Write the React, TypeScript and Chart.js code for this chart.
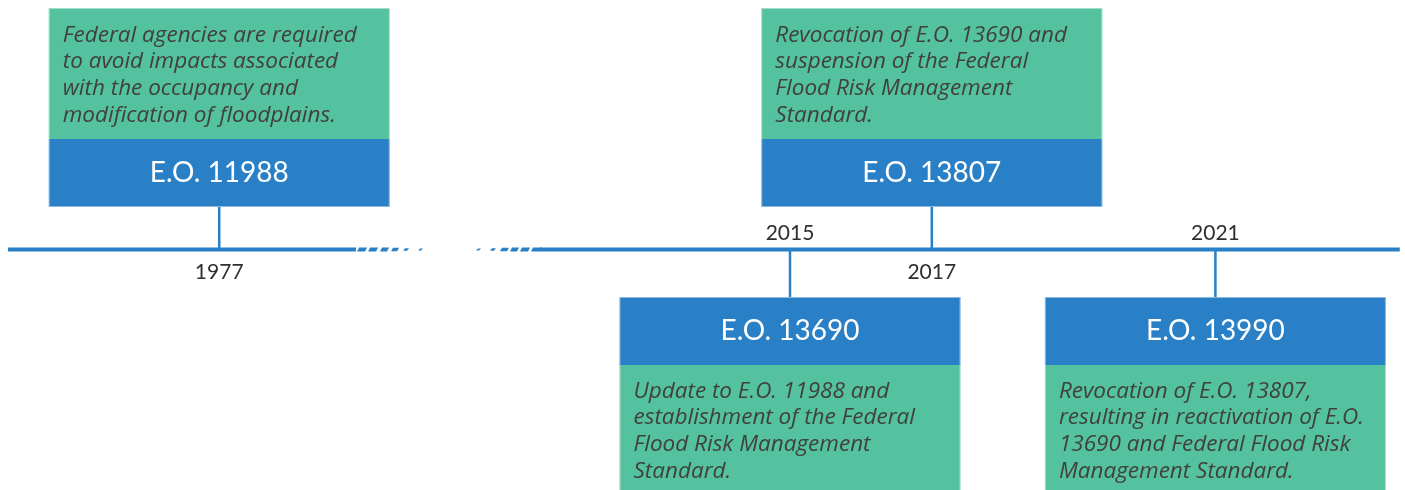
import { useEffect, useRef } from "react";
import { Chart, registerables } from "chart.js";

Chart.register(...registerables);

// ---- data ----
const years = [1977, 2015, 2017, 2021];
const yearLabels = ["1977", "2015", "2017", "2021"];
const orders = ["E.O. 11988", "E.O. 13690", "E.O. 13807", "E.O. 13990"];
const sides = ["above", "below", "above", "below"];
const descriptions = [
  ["Federal agencies are required", "to avoid impacts associated", "with the occupancy and", "modification of floodplains."],
  ["Update to E.O. 11988 and", "establishment of the Federal", "Flood Risk Management", "Standard."],
  ["Revocation of E.O. 13690 and", "suspension of the Federal", "Flood Risk Management", "Standard."],
  ["Revocation of E.O. 13807,", "resulting in reactivation of E.O.", "13690 and Federal Flood Risk", "Management Standard."],
];

// ---- broken axis (years before the break are shifted onto the axis) ----
const BREAK_YEAR = 2000;
const BREAK_SHIFT = 29.95;
const axisPos = (y: number) => (y < BREAK_YEAR ? y + BREAK_SHIFT : y);
const X_MIN = 2003.858;
const X_MAX = 2023.674;
const LINE_START = 2003.97;
const LINE_END = 2023.6;
const BREAK_START = 2008.88;
const BREAK_END = 2011.474;

// ---- styles ----
const BLUE = "#2980C7";
const GREEN = "#54C19F";
const TEXT_DARK = "#404040";
const LABEL = "#2f2f2f";
const BOX_W = 341;
const CONN_UP = 42.5;
const CONN_DOWN = -47.5;
const DESC_FAMILY = "'Open Sans'";
const DESC_TARGET_W = 295;

let descFont = "";
function fitDescFont(ctx: CanvasRenderingContext2D) {
  if (descFont) return descFont;
  let size = 21;
  for (let s = 16; s <= 26; s += 0.25) {
    ctx.font = `italic ${s}px ${DESC_FAMILY}`;
    if (ctx.measureText(descriptions[0][0]).width <= DESC_TARGET_W) size = s;
  }
  descFont = `italic ${size}px ${DESC_FAMILY}`;
  return descFont;
}

const timelinePlugin = {
  id: "timelineBoxes",
  afterDatasetsDraw(chart: any) {
    const ctx = chart.ctx;
    const xs = chart.scales.x;
    const ys = chart.scales.y;
    const y0 = ys.getPixelForValue(0);

    // axis break dashes
    const g1 = xs.getPixelForValue(BREAK_START);
    const g2 = xs.getPixelForValue(BREAK_END);
    const dash1 = [[1, 8, 4], [12, 8, 4], [24, 7, 4], [35, 6, 3.5], [47, 4, 2.5], [62, 3, 2]];
    const dash2 = [[-64, 3, 2], [-50, 4, 2.5], [-40, 7, 3.5], [-30, 7, 4], [-20, 8, 4], [-9, 9, 4]];
    ctx.save();
    ctx.fillStyle = BLUE;
    const drawDash = (x: number, len: number, h: number) => {
      ctx.beginPath();
      ctx.moveTo(x, y0 + h / 2);
      ctx.lineTo(x + len, y0 + h / 2);
      ctx.lineTo(x + len + 2, y0 - h / 2);
      ctx.lineTo(x + 2, y0 - h / 2);
      ctx.closePath();
      ctx.fill();
    };
    dash1.forEach(([o, l, h]) => drawDash(g1 + o, l, h));
    dash2.forEach(([o, l, h]) => drawDash(g2 + o, l, h));
    ctx.restore();

    const dFont = fitDescFont(ctx);

    // boxes
    years.forEach((yr, i) => {
      const cx = xs.getPixelForValue(axisPos(yr));
      const left = cx - BOX_W / 2;
      let blueTop: number, greenTop: number, greenBottom: number;
      if (sides[i] === "above") {
        const blueBottom = ys.getPixelForValue(CONN_UP);
        blueTop = blueBottom - 68;
        greenTop = 8;
        greenBottom = blueTop;
      } else {
        blueTop = ys.getPixelForValue(CONN_DOWN);
        greenTop = blueTop + 67;
        greenBottom = chart.height + 5;
      }
      ctx.save();
      ctx.fillStyle = GREEN;
      ctx.fillRect(left, greenTop, BOX_W, greenBottom - greenTop);
      ctx.fillStyle = BLUE;
      ctx.fillRect(left, blueTop, BOX_W, 68);
      ctx.strokeStyle = "rgba(255,255,255,0.45)";
      ctx.lineWidth = 1;
      ctx.strokeRect(left + 0.5, Math.min(greenTop, blueTop) + 0.5, BOX_W - 1, (sides[i] === "above" ? blueTop + 68 - greenTop : greenBottom - blueTop) - 1);

      ctx.fillStyle = "#ffffff";
      ctx.font = "28px Lato";
      ctx.textAlign = "center";
      ctx.textBaseline = "alphabetic";
      ctx.fillText(orders[i], cx, blueTop + 43);

      ctx.fillStyle = TEXT_DARK;
      ctx.font = dFont;
      ctx.textAlign = "left";
      descriptions[i].forEach((line, k) => {
        ctx.fillText(line, left + 14, greenTop + 33.5 + k * 26.8);
      });

      ctx.fillStyle = LABEL;
      ctx.font = "21px Lato";
      ctx.textAlign = "center";
      const ly = sides[i] === "above" ? y0 + 29.5 : y0 - 9.5;
      ctx.fillText(yearLabels[i], cx, ly);
      ctx.restore();
    });
  },
};

export default function App() {
  const ref = useRef<HTMLCanvasElement>(null);
  useEffect(() => {
    if (!ref.current) return;
    const lineData = [
      { x: LINE_START, y: 0 },
      { x: BREAK_START, y: 0 },
      { x: (BREAK_START + BREAK_END) / 2, y: null },
      { x: BREAK_END, y: 0 },
      { x: LINE_END, y: 0 },
    ];
    const connData: any[] = [];
    years.forEach((yr, i) => {
      const x = axisPos(yr);
      connData.push({ x, y: 0 });
      connData.push({ x, y: sides[i] === "above" ? CONN_UP : CONN_DOWN });
      connData.push({ x: x + 0.01, y: null });
    });
    const chart = new Chart(ref.current, {
      type: "line",
      data: {
        datasets: [
          {
            data: connData as any,
            borderColor: BLUE,
            borderWidth: 2.5,
            pointRadius: 0,
            spanGaps: false,
          },
          {
            data: lineData as any,
            borderColor: BLUE,
            borderWidth: 4,
            pointRadius: 0,
            spanGaps: false,
          },
        ],
      },
      options: {
        animation: false,
        responsive: false,
        layout: { padding: 0 },
        plugins: { legend: { display: false }, tooltip: { enabled: false } },
        scales: {
          x: { type: "linear", min: X_MIN, max: X_MAX, display: false },
          y: { type: "linear", min: -240.5, max: 249.5, display: false },
        },
      },
      plugins: [timelinePlugin],
    });
    return () => chart.destroy();
  }, []);
  return (
    <div style={{ position: "fixed", left: 0, top: 0, width: 1405, height: 490, background: "#fff" }}>
      <canvas ref={ref} width={1405} height={490} style={{ display: "block" }} />
    </div>
  );
}
